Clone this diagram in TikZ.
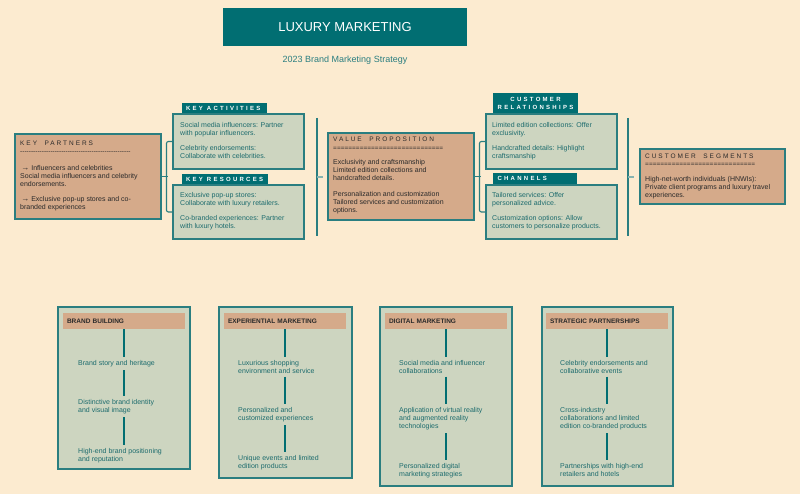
\documentclass[tikz,border=0pt]{standalone}
\usepackage{fontspec}
\setmainfont{Liberation Sans}
\newfontfamily\spc[LetterSpace=30]{Liberation Sans}
\newfontfamily\spcb[LetterSpace=38]{Liberation Sans}
\definecolor{bgc}{HTML}{FCEBD0}
\definecolor{tealc}{HTML}{016E72}
\definecolor{bord}{HTML}{2A7E80}
\definecolor{sage}{HTML}{CDD5C0}
\definecolor{salmon}{HTML}{D5AA8A}
\definecolor{tealtxt}{HTML}{1C6B6D}
\definecolor{darktxt}{HTML}{2A2A2A}
\definecolor{stubc}{HTML}{86B3B0}
\begin{document}
\begin{tikzpicture}[x=1pt,y=-1pt,
  sagebox/.style={draw=bord,fill=sage,line width=1.1pt,inner sep=0pt},
  salbox/.style={draw=bord,fill=salmon,line width=1.1pt,inner sep=0pt},
  lab/.style={fill=tealc,text=white,inner xsep=4pt,inner ysep=0pt,font=\spcb\bfseries\fontsize{6}{8}\selectfont},
  tt/.style={anchor=north west,inner sep=0pt,align=left,font=\fontsize{7}{8}\selectfont,text=tealtxt},
  dt/.style={anchor=north west,inner sep=0pt,align=left,font=\fontsize{7}{8}\selectfont,text=darktxt},
  hd/.style={anchor=base west,inner sep=0pt,font=\spc\fontsize{6.5}{8}\selectfont,text=darktxt},
  rl/.style={anchor=base west,inner sep=0pt,font=\fontsize{6.5}{8}\selectfont,text=darktxt},
  conn/.style={draw=bord,line width=1.1pt,rounded corners=2pt},
  sep/.style={draw=bord,line width=1.1pt},
  stub/.style={draw=stubc,line width=1.1pt},
  panel/.style={draw=bord,fill=sage,line width=1.5pt,inner sep=0pt},
  hdr/.style={fill=salmon,minimum height=16pt,text width=114pt,inner xsep=4pt,inner ysep=0pt,align=left,font=\bfseries\fontsize{6.5}{7}\selectfont,text=darktxt},
  it/.style={anchor=north west,inner xsep=0pt,inner ysep=3pt,align=left,font=\fontsize{7}{8}\selectfont,text=tealtxt},
  vl/.style={draw=tealc,line width=1.6pt}]
\fill[bgc] (0,0) rectangle (800,494);
\useasboundingbox (0,0) rectangle (800,494);

% title
\node[fill=tealc,minimum width=244pt,minimum height=38pt,inner sep=0pt,text=white,font=\fontsize{13}{15}\selectfont] (title) at (345,27) {LUXURY MARKETING};
\node[inner sep=0pt,text=bord,font=\fontsize{9}{11}\selectfont] (sub) at (345,60) {2023 Brand Marketing Strategy};

% key partners
\node[salbox,minimum width=146pt,minimum height=85pt] (kp) at (88,176.5) {};
\node[hd] (kph) at (20,145.3) {KEY\ \ PARTNERS};
\node[rl] (kpl) at (20,154) {-{}-{}-{}-{}-{}-{}-{}-{}-{}-{}-{}-{}-{}-{}-{}-{}-{}-{}-{}-{}-{}-{}-{}-{}-{}-{}-{}-{}-{}-{}-{}-{}-{}-{}-{}-{}-{}-{}-{}-{}-{}-{}-{}-{}-{}-{}-{}-{}-{}-{}-};
\node[dt] (kp1) at (20,165.2) {\,{\fontsize{8}{8}\selectfont →} Influencers and celebrities\\Social media influencers and celebrity\\endorsements.};
\node[dt] (kp2) at (20,196.2) {\,{\fontsize{8}{8}\selectfont →} Exclusive pop-up stores and co-\\branded experiences};

% key activities
\node[sagebox,minimum width=131pt,minimum height=55pt] (ka) at (238.5,141.5) {};
\node[lab,minimum width=85pt,minimum height=10pt,text width=77pt] (lka) at (224.5,108) {KEY\ \ ACTIVITIES};
\node[tt] (ka1) at (180,122.2) {Social media influencers: Partner\\with popular influencers.};
\node[tt] (ka2) at (180,145.2) {Celebrity endorsements:\\Collaborate with celebrities.};

% key resources
\node[sagebox,minimum width=131pt,minimum height=54pt] (kr) at (238.5,212) {};
\node[lab,minimum width=86pt,minimum height=10pt,text width=78pt] (lkr) at (225,179) {KEY\ \ RESOURCES};
\node[tt] (kr1) at (180,192.2) {Exclusive pop-up stores:\\Collaborate with luxury retailers.};
\node[tt] (kr2) at (180,215.2) {Co-branded experiences: Partner\\with luxury hotels.};

% bracket key partners
\draw[conn] (kp.east) -- ++(6,0);
\draw[conn] (ka.west) -- ++(-6,0) |- (kr.west);

% separators
\coordinate (s1t) at (317,118);
\coordinate (s1b) at (317,236);
\coordinate (s1m) at (317,177);
\draw[sep] (s1t) -- (s1b);
\draw[stub] (s1m) -- ++(6,0);
\coordinate (s2t) at (628,118);
\coordinate (s2b) at (628,236);
\coordinate (s2m) at (628,177);
\draw[sep] (s2t) -- (s2b);
\draw[stub] (s2m) -- ++(6,0);

% value proposition
\node[salbox,minimum width=146pt,minimum height=87pt] (vp) at (401,176.5) {};
\node[hd] (vph) at (333,141.3) {VALUE\ \ PROPOSITION};
\node[rl] (vpl) at (333,150.3) {=============================};
\node[dt] (vp1) at (333,159.2) {Exclusivity and craftsmanship\\Limited edition collections and\\handcrafted details.};
\node[dt] (vp2) at (333,191.2) {Personalization and customization\\Tailored services and customization\\options.};

% customer relationships
\node[sagebox,minimum width=131pt,minimum height=55pt] (cr) at (551.5,141.5) {};
\node[lab,minimum width=85pt,minimum height=20pt,text width=77pt,align=center] (lcr) at (535.5,103) {CUSTOMER\\RELATIONSHIPS};
\node[tt] (cr1) at (492,122.2) {Limited edition collections: Offer\\exclusivity.};
\node[tt] (cr2) at (492,145.2) {Handcrafted details: Highlight\\craftsmanship};

% channels
\node[sagebox,minimum width=131pt,minimum height=54pt] (ch) at (551.5,212) {};
\node[lab,minimum width=84pt,minimum height=11pt,text width=75pt,inner xsep=4.5pt] (lch) at (535,178.5) {CHANNELS};
\node[tt] (ch1) at (492,192.2) {Tailored services: Offer\\personalized advice.};
\node[tt] (ch2) at (492,215.2) {Customization options: Allow\\customers to personalize products.};

% bracket value proposition
\draw[conn] (vp.east) -- ++(6,0);
\draw[conn] (cr.west) -- ++(-6,0) |- (ch.west);

% customer segments
\node[salbox,minimum width=145pt,minimum height=55pt] (cs) at (712.5,176.5) {};
\node[hd] (csh) at (645,158.3) {CUSTOMER\ \ SEGMENTS};
\node[rl] (csl) at (645,166.3) {=============================};
\node[dt] (cs1) at (645,176.2) {High-net-worth individuals (HNWIs):\\Private client programs and luxury travel\\experiences.};

% bottom panels
\node[panel,minimum width=132pt,minimum height=162pt] (p1) at (124,388) {};
\node[hdr] (h1) at (124,321) {BRAND BUILDING};
\node[it] (i11) at (78,357.2) {Brand story and heritage};
\node[it] (i12) at (78,396.2) {Distinctive brand identity\\and visual image};
\node[it] (i13) at (78,445.2) {High-end brand positioning\\and reputation};
\draw[vl] (h1.south) -- (i11.north -| h1.south);
\draw[vl] (i11.south -| h1.south) -- (i12.north -| h1.south);
\draw[vl] (i12.south -| h1.south) -- (i13.north -| h1.south);

\node[panel,minimum width=133pt,minimum height=171pt] (p2) at (285.5,392.5) {};
\node[hdr] (h2) at (285,321) {EXPERIENTIAL MARKETING};
\node[it] (i21) at (238,357.2) {Luxurious shopping\\environment and service};
\node[it] (i22) at (238,404.2) {Personalized and\\customized experiences};
\node[it] (i23) at (238,452.2) {Unique events and limited\\edition products};
\draw[vl] (h2.south) -- (i21.north -| h2.south);
\draw[vl] (i21.south -| h2.south) -- (i22.north -| h2.south);
\draw[vl] (i22.south -| h2.south) -- (i23.north -| h2.south);

\node[panel,minimum width=132pt,minimum height=179pt] (p3) at (446,396.5) {};
\node[hdr] (h3) at (446,321) {DIGITAL MARKETING};
\node[it] (i31) at (399,357.2) {Social media and influencer\\collaborations};
\node[it] (i32) at (399,404.2) {Application of virtual reality\\and augmented reality\\technologies};
\node[it] (i33) at (399,460.2) {Personalized digital\\marketing strategies};
\draw[vl] (h3.south) -- (i31.north -| h3.south);
\draw[vl] (i31.south -| h3.south) -- (i32.north -| h3.south);
\draw[vl] (i32.south -| h3.south) -- (i33.north -| h3.south);

\node[panel,minimum width=131pt,minimum height=179pt] (p4) at (607.5,396.5) {};
\node[hdr] (h4) at (607,321) {STRATEGIC PARTNERSHIPS};
\node[it] (i41) at (560,357.2) {Celebrity endorsements and\\collaborative events};
\node[it] (i42) at (560,404.2) {Cross-industry\\collaborations and limited\\edition co-branded products};
\node[it] (i43) at (560,460.2) {Partnerships with high-end\\retailers and hotels};
\draw[vl] (h4.south) -- (i41.north -| h4.south);
\draw[vl] (i41.south -| h4.south) -- (i42.north -| h4.south);
\draw[vl] (i42.south -| h4.south) -- (i43.north -| h4.south);
\end{tikzpicture}
\end{document}
